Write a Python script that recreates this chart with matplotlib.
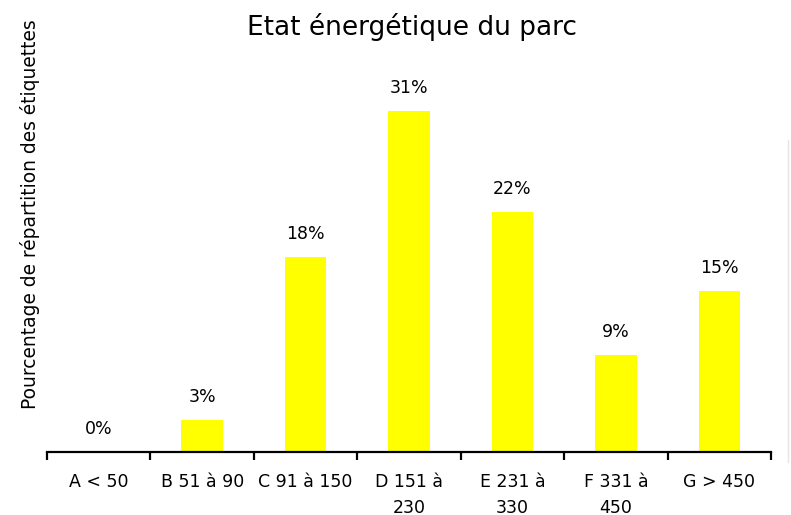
import numpy as np
import matplotlib.pyplot as plt
from matplotlib.lines import Line2D

# classes énergétiques et part du parc (%)
categories = ["A < 50", "B 51 à 90", "C 91 à 150", "D 151 à\n230",
              "E 231 à\n330", "F 331 à\n450", "G > 450"]
valeurs = [0, 2.95, 18.0, 31.4, 22.1, 8.9, 14.8]
etiquettes = ["0%", "3%", "18%", "31%", "22%", "9%", "15%"]

W, H = 791, 515
fig = plt.figure(figsize=(W / 100, H / 100), dpi=100)

# axes placés en pixels : gauche 47, droite 771, base 452, haut ~61
left, right, bottom, top = 47, 771, 452, 61
ax = fig.add_axes([left / W, 1 - bottom / H, (right - left) / W, (bottom - top) / H])

x = np.arange(len(categories))
ax.bar(x, valeurs, width=0.4, color="#ffff00", zorder=2)

for xi, v, lab in zip(x, valeurs, etiquettes):
    ax.annotate(lab, (xi, v), xytext=(0, 10), textcoords="offset points",
                ha="center", va="bottom", fontsize=12.5, color="black")

ax.set_xlim(-0.5, len(categories) - 0.5)
ax.set_ylim(0, 36)

for s in ["left", "top", "right"]:
    ax.spines[s].set_visible(False)
ax.spines["bottom"].set_linewidth(1.6)
ax.set_yticks([])

# traits aux limites des classes, libellés au centre
ax.set_xticks(np.arange(len(categories) + 1) - 0.5)
ax.set_xticklabels([])
ax.tick_params(axis="x", which="major", direction="out", length=6, width=1.6)
ax.set_xticks(x, minor=True)
ax.set_xticklabels(categories, minor=True, fontsize=12.5)
ax.tick_params(axis="x", which="minor", length=0, pad=15)
for lbl in ax.get_xticklabels(minor=True):
    lbl.set_linespacing(1.55)
    lbl.set_verticalalignment("top")

fig.text(412 / W, 1 - 27 / H, "Etat énergétique du parc", ha="center", va="center",
         fontsize=19)
fig.text(30 / W, 1 - 214 / H, "Pourcentage de répartition des étiquettes",
         rotation=90, ha="center", va="center", fontsize=13.4)

# fin trait gris à droite
fig.add_artist(Line2D([788 / W, 788 / W], [1 - 462 / H, 1 - 140 / H],
                      color="#e4e4e4", linewidth=1))

fig.savefig("out.png", dpi=100)
